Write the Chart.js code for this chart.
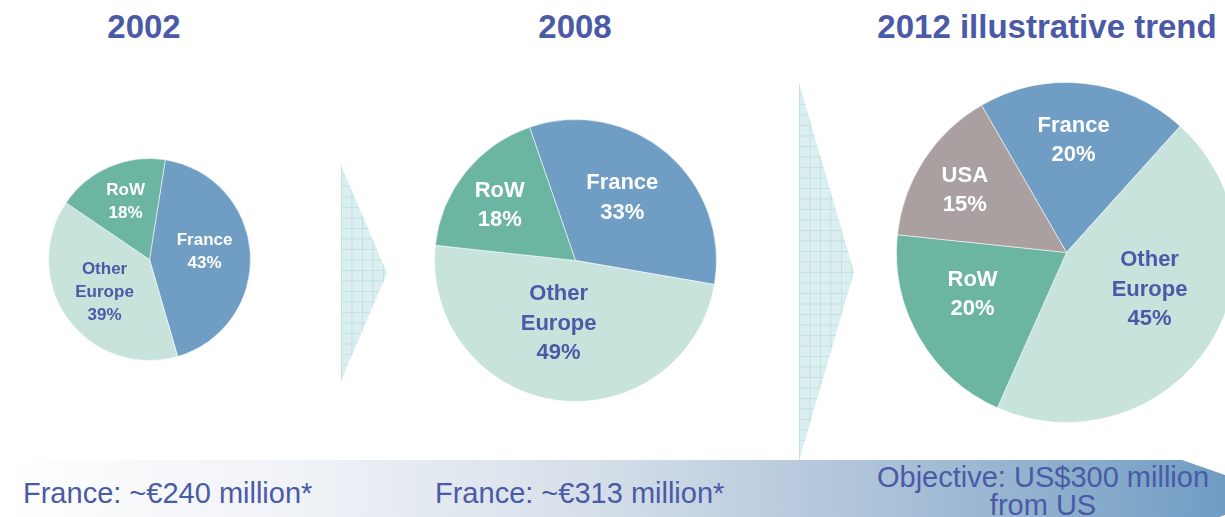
<!DOCTYPE html>
<html>
<head>
<meta charset="utf-8">
<script src="https://cdn.jsdelivr.net/npm/chart.js@4.4.1/dist/chart.umd.min.js"></script>
<style>
  html, body { margin: 0; padding: 0; width: 1225px; height: 517px; overflow: hidden; background: #fff; }
  body { position: relative; font-family: "Liberation Sans", Arial, sans-serif; color: #4a5aa6; }
  .title { position: absolute; top: 10px; font-size: 33px; line-height: 33px; font-weight: bold; white-space: nowrap; transform: translateX(-50%); }
  .pie { position: absolute; }
  .chevron {
    position: absolute;
    background-color: #dbeef0;
    background-image:
      linear-gradient(to right, #c0e1e2 1px, transparent 1px),
      linear-gradient(to bottom, #c0e1e2 1px, transparent 1px);
    background-size: 10.5px 10.5px;
    clip-path: polygon(0 0, 100% 50%, 0 100%);
  }
  .bar {
    position: absolute; left: 0; top: 460px; width: 1282px; height: 70px;
    background: linear-gradient(to right, #ffffff 0%, #eef1f6 25%, #d3dde8 48%, #a9c0d7 70%, #6f9cc3 96%);
    clip-path: polygon(0 0, 1182px 0, 100% 50%, 1182px 100%, 0 100%);
  }
  .note { position: absolute; font-size: 29px; white-space: nowrap; line-height: 28px; }
</style>
</head>
<body>
<div class="chevron" style="left:341px; top:165px; width:46px; height:216px;"></div>
<div class="chevron" style="left:799px; top:83px; width:55px; height:378px;"></div>
<div class="bar"></div>

<div class="title" style="left:144px;">2002</div>
<div class="title" style="left:575px;">2008</div>
<div class="title" style="left:1047px;">2012 illustrative trend</div>

<div class="pie" id="p1"><canvas id="c1"></canvas></div>
<div class="pie" id="p2"><canvas id="c2"></canvas></div>
<div class="pie" id="p3"><canvas id="c3"></canvas></div>

<div class="note" style="left:23px; top:479px;">France: ~€240 million*</div>
<div class="note" style="left:435px; top:479px;">France: ~€313 million*</div>
<div class="note" style="left:1043px; top:463px; text-align:center; transform:translateX(-50%);">Objective: US$300 million<br>from US</div>

<script>
// 数据
const labels2002 = ["France", "Other Europe", "RoW"]
const shares2002 = [43, 39, 18]

const labels2008 = ["France", "Other Europe", "RoW"]
const shares2008 = [33, 49, 18]

const labels2012 = ["France", "Other Europe", "RoW", "USA"]
const shares2012 = [20, 45, 20, 15]

const sliceColors = {
  "France": "#6f9dc4",
  "Other Europe": "#c7e3dc",
  "RoW": "#6cb5a3",
  "USA": "#aba0a0"
}
const darkText = "#4a5aa6"

// 切片标签插件（ratio: 半径比例, shift: 角度微调，单位度）
const sliceLabels = {
  id: "sliceLabels",
  afterDatasetsDraw(chart, args, opts) {
    const ctx = chart.ctx
    const meta = chart.getDatasetMeta(0)
    const labels = chart.data.labels
    const values = chart.data.datasets[0].data
    ctx.save()
    ctx.textAlign = "center"
    ctx.textBaseline = "middle"
    ctx.font = `bold ${opts.size}px "Liberation Sans", Arial, sans-serif`
    meta.data.forEach((arc, i) => {
      const p = arc.getProps(["x", "y", "startAngle", "endAngle", "outerRadius"], true)
      const mid = (p.startAngle + p.endAngle) / 2 + (opts.shifts[i] || 0) * Math.PI / 180
      const r = p.outerRadius * opts.ratios[i]
      const x = p.x + Math.cos(mid) * r
      const y = p.y + Math.sin(mid) * r
      const lines = labels[i].split(" ").concat([values[i] + "%"])
      const lh = opts.size * 1.34
      const y0 = y - (lines.length - 1) * lh / 2
      ctx.fillStyle = labels[i] === "Other Europe" ? darkText : "#ffffff"
      lines.forEach((t, k) => ctx.fillText(t, x, y0 + k * lh))
    })
    ctx.restore()
  }
}

function drawPie(id, canvasId, labels, values, cx, cy, r, rotation, size, ratios, shifts) {
  const box = document.getElementById(id)
  const s = 2 * r + 1
  box.style.left = (cx - s / 2) + "px"
  box.style.top = (cy - s / 2) + "px"
  box.style.width = s + "px"
  box.style.height = s + "px"
  new Chart(document.getElementById(canvasId), {
    type: "pie",
    data: {
      labels: labels,
      datasets: [{
        data: values,
        backgroundColor: labels.map(l => sliceColors[l]),
        borderColor: "rgba(255,255,255,0.55)",
        borderWidth: 1
      }]
    },
    options: {
      responsive: true,
      maintainAspectRatio: false,
      animation: false,
      rotation: rotation,
      layout: { padding: 0 },
      events: [],
      plugins: {
        legend: { display: false },
        tooltip: { enabled: false },
        sliceLabels: { size: size, ratios: ratios, shifts: shifts }
      }
    },
    plugins: [sliceLabels]
  })
}

drawPie("p1", "c1", labels2002, shares2002, 149, 259, 101, 9, 17, [0.55, 0.55, 0.62], [-4, 0, 1])
drawPie("p2", "c2", labels2008, shares2008, 575, 260, 141, -19, 22, [0.555, 0.463, 0.665], [-3.7, 7, -2.5])
drawPie("p3", "c3", labels2012, shares2012, 1066, 252, 170, -30, 22, [0.66, 0.535, 0.605, 0.70], [-2.4, -9, 6, -1.7])
</script>
</body>
</html>
